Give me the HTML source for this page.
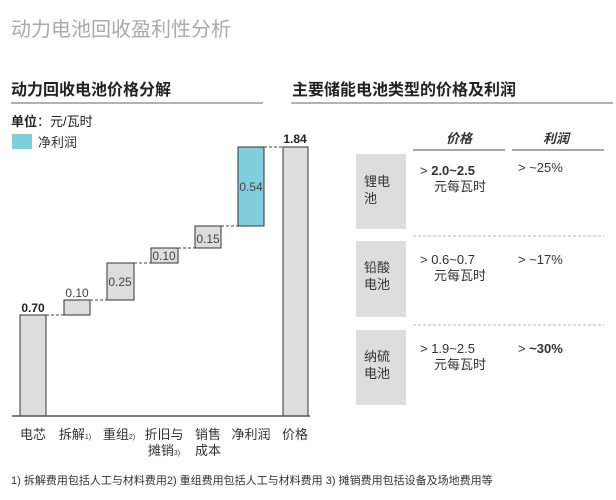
<!DOCTYPE html>
<html><head><meta charset="utf-8"><style>
body{margin:0;background:#fff;}
svg text{font-family:"Liberation Sans","Noto Sans CJK SC",sans-serif;}
</style></head><body>
<svg width="616" height="495" xmlns="http://www.w3.org/2000/svg">
<rect width="616" height="495" fill="#fff"/>
<text x="11" y="36" font-size="20" fill="#aaa">动力电池回收盈利性分析</text>
<text x="11" y="95" font-size="16" font-weight="bold" fill="#222">动力回收电池价格分解</text>
<text x="292" y="95" font-size="16" font-weight="bold" fill="#222">主要储能电池类型的价格及利润</text>
<line x1="11" y1="103" x2="263" y2="103" stroke="#999" stroke-width="1.5"/>
<line x1="291" y1="103" x2="613" y2="103" stroke="#999" stroke-width="1.5"/>
<text x="11" y="126" font-size="13" font-weight="bold" fill="#222">单位<tspan font-weight="normal">：元/瓦时</tspan></text>
<rect x="12" y="134" width="20" height="15" fill="#7fcfdc"/>
<text x="38" y="147" font-size="13" fill="#333">净利润</text>
<!-- bars -->
<g stroke="#333" stroke-width="1" fill="#ddd">
<rect x="20" y="315" width="26" height="101"/>
<rect x="64" y="300" width="26" height="15"/>
<rect x="107" y="263" width="27" height="37"/>
<rect x="151" y="248" width="27" height="15"/>
<rect x="195" y="226" width="26" height="22"/>
<rect x="238" y="147" width="26" height="79" fill="#7fcfdc"/>
<rect x="283" y="147" width="25" height="269"/>
</g>
<line x1="12" y1="416" x2="310" y2="416" stroke="#555" stroke-width="1.5"/>
<g stroke="#444" stroke-dasharray="3,2">
<line x1="46" y1="315" x2="64" y2="315"/>
<line x1="90" y1="300" x2="107" y2="300"/>
<line x1="134" y1="263" x2="151" y2="263"/>
<line x1="178" y1="248" x2="195" y2="248"/>
<line x1="221" y1="226" x2="238" y2="226"/>
<line x1="264" y1="147" x2="283" y2="147"/>
</g>
<g font-size="12" fill="#444" text-anchor="middle">
<text x="33" y="312" font-weight="bold" fill="#222">0.70</text>
<text x="77" y="297">0.10</text>
<text x="120" y="286">0.25</text>
<text x="164" y="260">0.10</text>
<text x="208" y="243">0.15</text>
<text x="251" y="191">0.54</text>
<text x="295" y="143" font-weight="bold" fill="#222">1.84</text>
</g>
<g font-size="13" fill="#333" text-anchor="middle">
<text x="33" y="439">电芯</text>
<text x="75" y="439">拆解<tspan font-size="7">1)</tspan></text>
<text x="119" y="439">重组<tspan font-size="7">2)</tspan></text>
<text x="164" y="439">折旧与</text>
<text x="164" y="455">摊销<tspan font-size="7">3)</tspan></text>
<text x="208" y="439">销售</text>
<text x="208" y="455">成本</text>
<text x="251" y="439">净利润</text>
<text x="295" y="439">价格</text>
</g>
<text x="11" y="484" font-size="11" fill="#333">1) 拆解费用包括人工与材料费用2)  重组费用包括人工与材料费用   3) 摊销费用包括设备及场地费用等</text>
<!-- right table -->
<text x="459" y="143" font-size="13" font-weight="bold" font-style="italic" fill="#333" text-anchor="middle">价格</text>
<text x="556" y="143" font-size="13" font-weight="bold" font-style="italic" fill="#333" text-anchor="middle">利润</text>
<line x1="413" y1="150" x2="505" y2="150" stroke="#888" stroke-width="1.5"/>
<line x1="512" y1="150" x2="604" y2="150" stroke="#888" stroke-width="1.5"/>
<rect x="356" y="154" width="50" height="75" fill="#ddd"/>
<rect x="356" y="241" width="50" height="76" fill="#ddd"/>
<rect x="356" y="330" width="50" height="75" fill="#ddd"/>
<g stroke="#bbb" stroke-dasharray="3,2"><line x1="413" y1="236" x2="604" y2="236"/><line x1="413" y1="325" x2="604" y2="325"/></g>
<g font-size="13" fill="#333">
<text x="364" y="186">锂电</text><text x="364" y="203">池</text>
<text x="364" y="272">铅酸</text><text x="364" y="289">电池</text>
<text x="364" y="361">纳硫</text><text x="364" y="378">电池</text>
<text x="420" y="175">&gt;  <tspan font-weight="bold">2.0~2.5</tspan></text><text x="434" y="191">元每瓦时</text>
<text x="420" y="264">&gt;  0.6~0.7</text><text x="434" y="280">元每瓦时</text>
<text x="420" y="353">&gt;  1.9~2.5</text><text x="434" y="369">元每瓦时</text>
<text x="518" y="172">&gt;  ~25%</text>
<text x="518" y="264">&gt;  ~17%</text>
<text x="518" y="353">&gt;  <tspan font-weight="bold">~30%</tspan></text>
</g>
</svg>
</body></html>
